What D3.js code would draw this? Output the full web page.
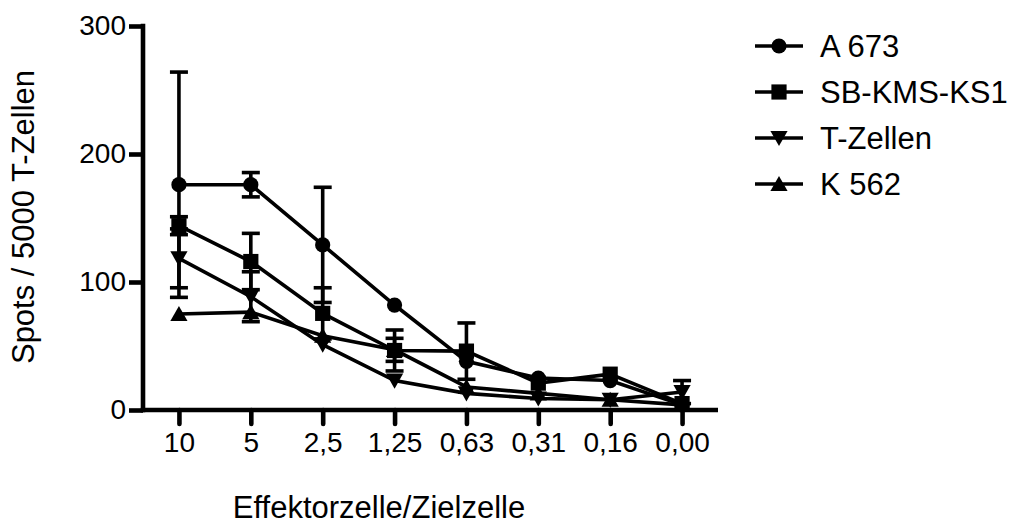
<!DOCTYPE html>
<html>
<head>
<meta charset="utf-8">
<script src="https://cdn.jsdelivr.net/npm/d3@7"></script>
<style>
  html, body { margin: 0; padding: 0; background: #fff; }
  svg { display: block; }
  text { font-family: "Liberation Sans", Arial, sans-serif; fill: #000; }
</style>
</head>
<body>
<svg id="chart" width="1012" height="527"></svg>
<script>
// ---- data ----
const categories = ["10", "5", "2,5", "1,25", "0,63", "0,31", "0,16", "0,00"];
const yTicks = [0, 100, 200, 300];
const seriesNames = ["A 673", "SB-KMS-KS1", "T-Zellen", "K 562"];
const seriesSymbols = ["circle", "square", "triangleDown", "triangleUp"];
const a673 = [176, 176, 129, 82, 38, 25, 23, 4];
const a673Err = [88, 9.5, 45, 0, 0, 0, 0, 0];
const sbkms = [144, 116, 75.5, 46.5, 46, 21, 28, 5];
const sbkmsErr = [7, 22, 20, 16, 22, 0, 0, 0];
const tzellen = [118.5, 88.5, 51, 23, 13, 9, 8, 14];
const tzellenErr = [23, 19.5, 0, 0, 0, 0, 0, 9];
const k562 = [75, 76.5, 58, 47, 18, 13, 8, 4];
const k562Err = [0, 0, 0, 9, 0, 0, 0, 0];
const xTitle = "Effektorzelle/Zielzelle";
const yTitle = "Spots / 5000 T-Zellen";

const seriesValues = [a673, sbkms, tzellen, k562];
const seriesErrors = [a673Err, sbkmsErr, tzellenErr, k562Err];

// ---- layout ----
const svg = d3.select("#chart");
const x = d3.scalePoint().domain(categories).range([143, 718]).padding(0.5);
const y = d3.scaleLinear().domain([0, 300]).range([410, 26]);

const LW = 3.6;   // series line width
const AW = 4.6;   // axis line width

function symbolPath(type) {
  const r = 7.6;
  switch (type) {
    case "circle": return d3.symbol(d3.symbolCircle, Math.PI * r * r)();
    case "square": return `M${-r},${-r}H${r}V${r}H${-r}Z`;
    case "triangleUp": return `M0,${-r - 0.5}L${r + 1},${r - 0.5}L${-r - 1},${r - 0.5}Z`;
    case "triangleDown": return `M0,${r + 0.5}L${r + 1},${-r + 0.5}L${-r - 1},${-r + 0.5}Z`;
  }
}

// series lines
const line = d3.line().x((d, i) => x(categories[i])).y(d => y(d));
const gSeries = svg.append("g");
seriesValues.forEach((vals, s) => {
  gSeries.append("path")
    .attr("d", line(vals))
    .attr("fill", "none")
    .attr("stroke", "#000")
    .attr("stroke-width", LW)
    .attr("stroke-linejoin", "miter");
});

// error bars
const capW = 9;
seriesValues.forEach((vals, s) => {
  const errs = seriesErrors[s];
  vals.forEach((v, i) => {
    const e = errs[i];
    if (!e) return;
    const cx = x(categories[i]);
    const g = gSeries.append("g").attr("stroke", "#000").attr("stroke-width", LW);
    g.append("line").attr("x1", cx).attr("x2", cx).attr("y1", y(v + e)).attr("y2", y(Math.max(0, v - e)));
    g.append("line").attr("x1", cx - capW).attr("x2", cx + capW).attr("y1", y(v + e)).attr("y2", y(v + e));
    if (v - e > 0) {
      g.append("line").attr("x1", cx - capW).attr("x2", cx + capW).attr("y1", y(v - e)).attr("y2", y(v - e));
    }
  });
});

// markers
seriesValues.forEach((vals, s) => {
  vals.forEach((v, i) => {
    gSeries.append("path")
      .attr("d", symbolPath(seriesSymbols[s]))
      .attr("transform", `translate(${x(categories[i])},${y(v)})`)
      .attr("fill", "#000");
  });
});

// axes
const yAxis = d3.axisLeft(y).tickValues(yTicks).tickSize(14).tickSizeOuter(0).tickPadding(3);
const gy = svg.append("g").attr("transform", "translate(143,0)").call(yAxis);
gy.select(".domain").attr("stroke-width", AW).attr("d", `M0,${y(300) - AW / 2}V${y(0) + AW / 2}`);
gy.selectAll(".tick line").attr("stroke-width", AW);
gy.selectAll(".tick text").attr("font-size", 28).attr("font-family", "Liberation Sans, Arial, sans-serif");

const xAxis = d3.axisBottom(x).tickSize(14).tickSizeOuter(0).tickPadding(8);
const gx = svg.append("g").attr("transform", "translate(0,410)").call(xAxis);
gx.select(".domain").attr("stroke-width", AW).attr("d", `M${143 - AW / 2},0H718`);
gx.selectAll(".tick line").attr("stroke-width", AW).attr("stroke-linecap", "round");
gx.selectAll(".tick text").attr("font-size", 28).attr("font-family", "Liberation Sans, Arial, sans-serif");

// axis titles
svg.append("text")
  .attr("x", 379).attr("y", 518)
  .attr("text-anchor", "middle")
  .attr("font-size", 31)
  .text(xTitle);

svg.append("text")
  .attr("transform", "translate(34,217) rotate(-90)")
  .attr("text-anchor", "middle")
  .attr("font-size", 31)
  .text(yTitle);

// legend
const legendY = [46, 92, 138, 184];
const gl = svg.append("g");
seriesNames.forEach((name, s) => {
  const ly = legendY[s];
  gl.append("line").attr("x1", 755).attr("x2", 803).attr("y1", ly).attr("y2", ly)
    .attr("stroke", "#000").attr("stroke-width", LW);
  gl.append("path").attr("d", symbolPath(seriesSymbols[s]))
    .attr("transform", `translate(779,${ly})`).attr("fill", "#000");
  gl.append("text").attr("x", 820).attr("y", ly).attr("dy", "0.36em")
    .attr("font-size", 31).text(name);
});
</script>
</body>
</html>
